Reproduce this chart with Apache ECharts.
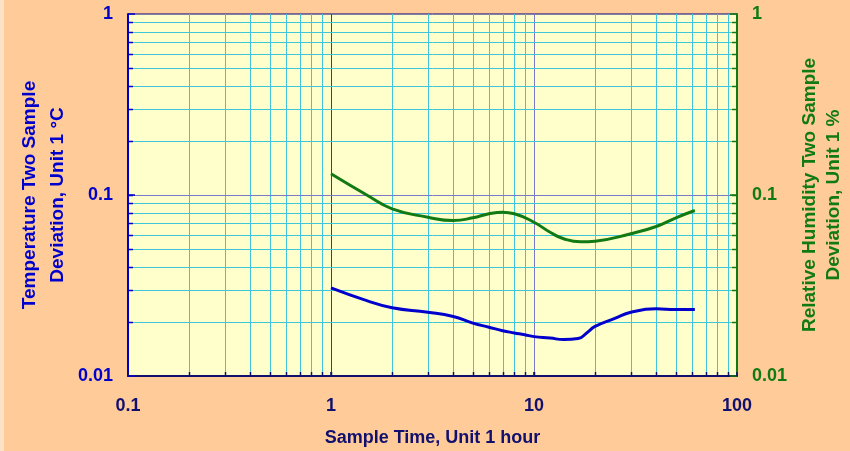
<!DOCTYPE html>
<html>
<head>
<meta charset="utf-8">
<script src="https://cdn.jsdelivr.net/npm/echarts@6/dist/echarts.min.js"></script>
<style>
html,body{margin:0;padding:0;background:#FFCC99;}
#c{width:850px;height:451px;}
</style>
</head>
<body>
<div id="c"></div>
<script>
// ---- data ----
const xTickLabels = [0.1, 1, 10, 100];
const yTickLabels = [0.01, 0.1, 1];
const xMinorTicks = [0.2,0.3,0.4,0.5,0.6,0.7,0.8,0.9, 2,3,4,5,6,7,8,9, 20,30,40,50,60,70,80,90];
const yMinorTicks = [0.02,0.03,0.04,0.05,0.06,0.07,0.08,0.09, 0.2,0.3,0.4,0.5,0.6,0.7,0.8,0.9];
const xMajorLines = [1, 10];
const yMajorLines = [0.1];

const tempX = [1, 1.5, 2, 3, 4, 5, 6, 7, 8, 9, 10, 12, 14, 16.5, 18.3, 20, 25, 30, 40, 50, 62];
const tempY = [0.0307, 0.0261, 0.0238, 0.0225, 0.0213, 0.0196, 0.0186, 0.0178, 0.0173, 0.0169, 0.0165, 0.0162, 0.0159, 0.0161, 0.0174, 0.0188, 0.0208, 0.0225, 0.0235, 0.0233, 0.0233];

const rhX = [1, 1.5, 2, 3, 4, 5, 6, 7, 8, 10, 12, 14, 17, 20, 30, 40, 50, 62];
const rhY = [0.131, 0.100, 0.0839, 0.0754, 0.0723, 0.0748, 0.0788, 0.0804, 0.0788, 0.0707, 0.0623, 0.0573, 0.0551, 0.0556, 0.0611, 0.0670, 0.0748, 0.0821];

const X_MIN = xTickLabels[0], X_MAX = xTickLabels[xTickLabels.length - 1];
const Y_MIN = yTickLabels[0], Y_MAX = yTickLabels[yTickLabels.length - 1];

// ---- styles ----
const CYAN = '#3EC6DA';
const MAJOR = '#7A7ACC';
const X1LINE = '#3434C4';
const BLUE = '#0000CC';
const GREEN = '#127A12';
const NAVY = '#10106E';
const FONT = 'Arial, "Liberation Sans", sans-serif';

function zip(a, b) { return a.map((v, i) => [v, b[i]]); }

function vRender(params, api) {
  const v = api.value(0);
  const isMajor = api.value(2) === 1;
  const top = api.coord([v, Y_MAX]);
  const bot = api.coord([v, Y_MIN]);
  const x = Math.round(top[0]) + 0.5;
  const children = [{
    type: 'line',
    shape: {x1: x, y1: top[1], x2: x, y2: bot[1]},
    style: {stroke: isMajor ? (v === 1 ? X1LINE : MAJOR) : CYAN, lineWidth: 1}
  }, {
    type: 'line',
    shape: {x1: x, y1: bot[1], x2: x, y2: bot[1] - 4},
    style: {stroke: NAVY, lineWidth: 1.5}
  }];
  return {type: 'group', children};
}

function hRender(params, api) {
  const v = api.value(1);
  const isMajor = api.value(2) === 1;
  const l = api.coord([X_MIN, v]);
  const r = api.coord([X_MAX, v]);
  const y = Math.round(l[1]) + 0.5;
  return {type: 'group', children: [{
    type: 'line',
    shape: {x1: l[0], y1: y, x2: r[0], y2: y},
    style: {stroke: isMajor ? MAJOR : CYAN, lineWidth: 1}
  }, {
    type: 'line',
    shape: {x1: l[0], y1: y, x2: l[0] + 5, y2: y},
    style: {stroke: BLUE, lineWidth: 1.5}
  }, {
    type: 'line',
    shape: {x1: r[0], y1: y, x2: r[0] - 5, y2: y},
    style: {stroke: GREEN, lineWidth: 1.5}
  }]};
}

const vData = xMinorTicks.map(v => [v, Y_MIN, 0]).concat(xMajorLines.map(v => [v, Y_MIN, 1]));
const hData = yMinorTicks.map(v => [X_MIN, v, 0]).concat(yMajorLines.map(v => [X_MIN, v, 1]));

const chart = echarts.init(document.getElementById('c'), null, {renderer: 'canvas'});
chart.setOption({
  backgroundColor: '#FFCC99',
  animation: false,
  graphic: [{type: 'rect', left: 0, top: 0, shape: {width: 4, height: 451}, style: {fill: '#FCE3C8'}, silent: true}],
  grid: {left: 128, right: 113, top: 14, bottom: 75, outerBoundsMode: 'none', containLabel: false,
    show: true, backgroundColor: '#FFFFCC', borderColor: '#000080', borderWidth: 1},
  xAxis: {
    type: 'log', logBase: 10, min: X_MIN, max: X_MAX, z: 5,
    name: 'Sample Time, Unit 1 hour', nameLocation: 'middle', nameGap: 53, nameMoveOverlap: false,
    nameTextStyle: {color: NAVY, fontWeight: 'bold', fontSize: 18, fontFamily: FONT},
    axisLine: {show: true, lineStyle: {color: NAVY, width: 2}},
    axisTick: {show: true, inside: true, length: 4, lineStyle: {color: NAVY, width: 1.5}},
    axisLabel: {color: NAVY, fontWeight: 'bold', fontSize: 18, fontFamily: FONT, margin: 21,
      formatter: v => String(v)},
    splitLine: {show: false}, minorTick: {show: false}
  },
  yAxis: [{
    type: 'log', logBase: 10, min: Y_MIN, max: Y_MAX, position: 'left', z: 5,
    name: 'Temperature Two Sample\nDeviation, Unit 1 °C', nameLocation: 'middle', nameGap: 56, nameRotate: 90,
    nameMoveOverlap: false,
    nameTextStyle: {color: BLUE, fontWeight: 'bold', fontSize: 19, lineHeight: 28, fontFamily: FONT, align: 'center'},
    axisLine: {show: true, lineStyle: {color: BLUE, width: 2}},
    axisTick: {show: true, inside: true, length: 7, lineStyle: {color: BLUE, width: 1.5}},
    axisLabel: {color: BLUE, fontWeight: 'bold', fontSize: 18, fontFamily: FONT, margin: 15, formatter: v => String(v)},
    splitLine: {show: false}
  }, {
    type: 'log', logBase: 10, min: Y_MIN, max: Y_MAX, position: 'right', z: 5,
    name: 'Relative Humidity Two Sample\nDeviation, Unit 1 %', nameLocation: 'middle', nameGap: 61, nameRotate: 90,
    nameMoveOverlap: false,
    nameTextStyle: {color: GREEN, fontWeight: 'bold', fontSize: 19, lineHeight: 24, fontFamily: FONT, align: 'center'},
    axisLine: {show: true, lineStyle: {color: GREEN, width: 2}},
    axisTick: {show: true, inside: true, length: 7, lineStyle: {color: GREEN, width: 1.5}},
    axisLabel: {color: GREEN, fontWeight: 'bold', fontSize: 18, fontFamily: FONT, margin: 15, formatter: v => String(v)},
    splitLine: {show: false}
  }],
  series: [{
    type: 'custom', name: 'vgrid', xAxisIndex: 0, yAxisIndex: 0, z: 1, silent: true,
    renderItem: vRender, data: vData, encode: {x: 0, y: 1}
  }, {
    type: 'custom', name: 'hgrid', xAxisIndex: 0, yAxisIndex: 0, z: 1, silent: true,
    renderItem: hRender, data: hData, encode: {x: 0, y: 1}
  }, {
    type: 'line', name: 'Temperature', xAxisIndex: 0, yAxisIndex: 0, z: 3,
    data: zip(tempX, tempY), smooth: 0.5, showSymbol: false, symbol: 'none',
    lineStyle: {color: BLUE, width: 3}
  }, {
    type: 'line', name: 'Relative Humidity', xAxisIndex: 0, yAxisIndex: 1, z: 3,
    data: zip(rhX, rhY), smooth: 0.5, showSymbol: false, symbol: 'none',
    lineStyle: {color: GREEN, width: 3}
  }]
});
</script>
</body>
</html>
